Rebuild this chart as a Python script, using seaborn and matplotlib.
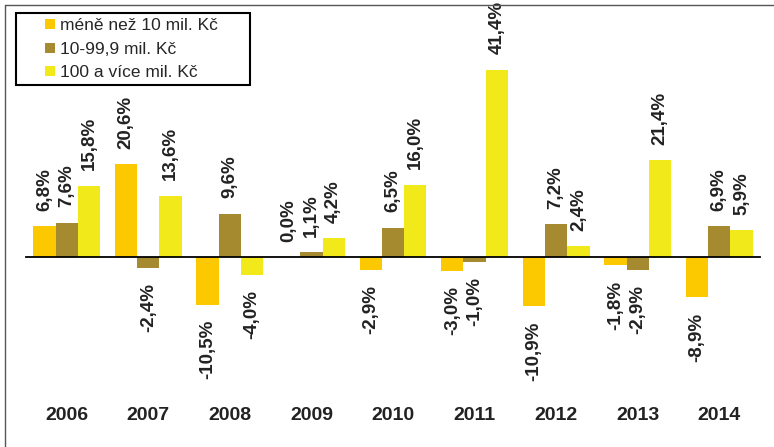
import pandas as pd
import numpy as np
import matplotlib.pyplot as plt
import matplotlib.transforms as mtransforms
from matplotlib.lines import Line2D
import seaborn as sns

# data (meziroční změna, %)
years = ["2006", "2007", "2008", "2009", "2010", "2011", "2012", "2013", "2014"]
groups = ["méně než 10 mil. Kč", "10-99,9 mil. Kč", "100 a více mil. Kč"]
small = [6.8, 20.6, -10.5, 0.0, -2.9, -3.0, -10.9, -1.8, -8.9]
medium = [7.6, -2.4, 9.6, 1.1, 6.5, -1.0, 7.2, -2.9, 6.9]
large = [15.8, 13.6, -4.0, 4.2, 16.0, 41.4, 2.4, 21.4, 5.9]
colors = ["#FCC800", "#A68A30", "#F2E91A"]

df = pd.DataFrame({
    "rok": years * 3,
    "skupina": np.repeat(groups, len(years)),
    "zmena": small + medium + large,
})

sns.set_style("white")
plt.rcParams["font.family"] = ["Liberation Sans", "DejaVu Sans"]

fig = plt.figure(figsize=(7.74, 4.47), dpi=100)
W, H = 774, 447
# plot area in pixels: x 26..760, y 20..395
ax = fig.add_axes([26 / W, 1 - 395 / H, (760 - 26) / W, (395 - 20) / H])

sns.barplot(
    data=df, x="rok", y="zmena", hue="skupina", order=years, hue_order=groups,
    palette=colors, width=0.82, saturation=1, linewidth=0, legend=False, ax=ax,
)

for cont, vals in zip(ax.containers, [small, medium, large]):
    labels = [f"{v:.1f}%".replace(".", ",") for v in vals]
    ax.bar_label(cont, labels=labels, rotation=90, padding=11,
                 fontsize=13.5, fontweight="bold", color="#222222")

ax.set_xlim(-0.5, 8.5)
ax.set_ylim(-30.5, 52.4)
ax.set_xlabel("")
ax.set_ylabel("")
ax.set_yticks([])
for s in ["top", "right", "left"]:
    ax.spines[s].set_visible(False)
ax.spines["bottom"].set_position(("data", 0))
ax.spines["bottom"].set_color("black")
ax.spines["bottom"].set_linewidth(1.3)
ax.set_xticks(range(len(years)))
ax.tick_params(axis="x", which="major", length=0, labelbottom=False)
ax.set_xticks(np.arange(-0.5, len(years), 1.0), minor=True)
ax.tick_params(axis="x", which="minor", length=4.5, width=1, color="#999999",
               direction="out")

# year labels at the bottom of the chart
trans = mtransforms.blended_transform_factory(ax.transData, ax.transAxes)
for i, y in enumerate(years):
    ax.text(i, -0.055, y, transform=trans, ha="center", va="center",
            fontsize=14, fontweight="bold", color="#222222")

handles = [Line2D([], [], marker="s", linestyle="none", markersize=7.5,
                  markerfacecolor=c, markeredgewidth=0) for c in colors]
leg = fig.legend(
    handles, groups, loc="upper left",
    bbox_to_anchor=(16 / W, 0.5, (250 - 16) / W, 1 - 13 / H - 0.5),
    bbox_transform=fig.transFigure, mode="expand", borderaxespad=0,
    fontsize=12.5, handlelength=3.31, handletextpad=-1.08, labelspacing=0.47,
    borderpad=0.3, fancybox=False, framealpha=1,
)
leg.get_frame().set_edgecolor("black")
leg.get_frame().set_linewidth(1.5)

# outer frame of the original chart (bottom/right are cut off)
fig.add_artist(Line2D([5 / W, 5 / W], [0, 1 - 5 / H], color="#555555",
                      lw=1, transform=fig.transFigure))
fig.add_artist(Line2D([5 / W, 1], [1 - 5 / H, 1 - 5 / H], color="#555555",
                      lw=1, transform=fig.transFigure))

fig.savefig("out.png", dpi=100)
